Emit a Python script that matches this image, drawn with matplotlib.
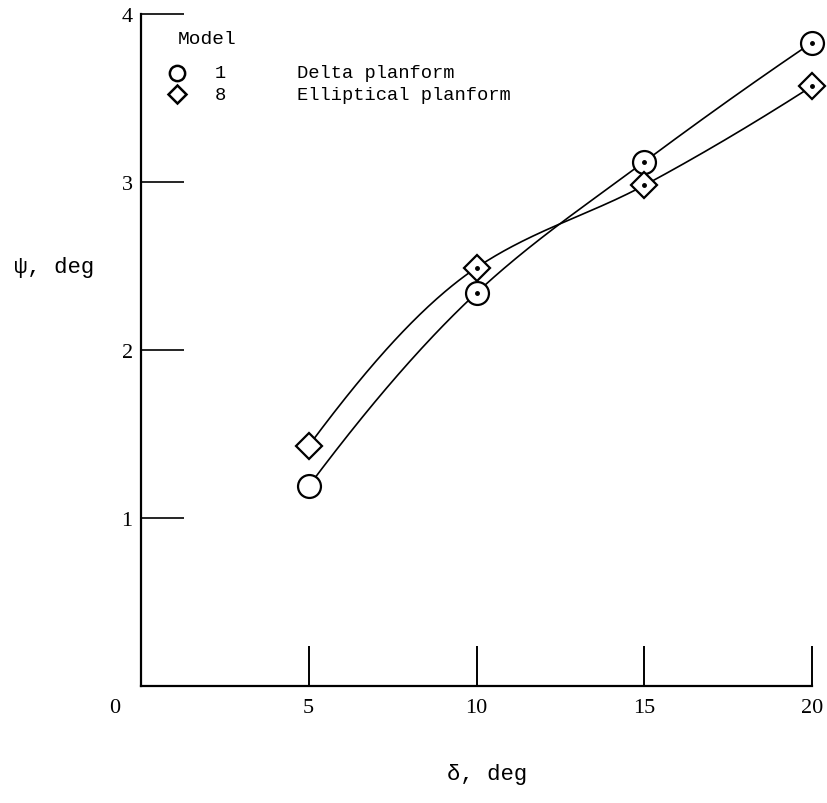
import numpy as np
import matplotlib
matplotlib.use("Agg")
import matplotlib.pyplot as plt

# deflection angle and measured psi for the two planforms
delta = [5, 10, 15, 20]
psi_delta = [1.19, 2.34, 3.12, 3.83]       # model 1, delta planform
psi_ellip = [1.43, 2.49, 2.98, 3.57]       # model 8, elliptical planform
centre_dot = [False, True, True, True]     # symbols drawn with a centre dot

x_ticks = [5, 10, 15, 20]
y_ticks = [1, 2, 3, 4]


def pchip(x, y, xs):
    """Monotone cubic (Fritsch-Carlson) fairing through the points."""
    x = np.asarray(x, float)
    y = np.asarray(y, float)
    h = np.diff(x)
    d = np.diff(y) / h
    m = np.zeros_like(y)
    for k in range(1, len(x) - 1):
        if d[k - 1] * d[k] > 0:
            w1 = 2 * h[k] + h[k - 1]
            w2 = h[k] + 2 * h[k - 1]
            m[k] = (w1 + w2) / (w1 / d[k - 1] + w2 / d[k])
    m[0] = ((2 * h[0] + h[1]) * d[0] - h[0] * d[1]) / (h[0] + h[1])
    m[-1] = ((2 * h[-1] + h[-2]) * d[-1] - h[-1] * d[-2]) / (h[-1] + h[-2])
    idx = np.clip(np.searchsorted(x, xs) - 1, 0, len(x) - 2)
    t = (xs - x[idx]) / h[idx]
    h00 = 2 * t**3 - 3 * t**2 + 1
    h10 = t**3 - 2 * t**2 + t
    h01 = -2 * t**3 + 3 * t**2
    h11 = t**3 - t**2
    return (h00 * y[idx] + h10 * h[idx] * m[idx]
            + h01 * y[idx + 1] + h11 * h[idx] * m[idx + 1])


serif = "Liberation Serif"
mono = ["Liberation Mono", "DejaVu Sans Mono"]

fig = plt.figure(figsize=(8.28, 8.04), dpi=100)
ax = fig.add_axes([141 / 828, 1 - 687 / 804, (812 - 141) / 828, (687 - 15) / 804])
ax.set_xlim(0, 20)
ax.set_ylim(0, 4)

xs = np.linspace(delta[0], delta[-1], 300)
for ys, marker, ms in [(psi_delta, "o", 16.5), (psi_ellip, "D", 13)]:
    ax.plot(xs, pchip(delta, ys, xs), color="black", lw=1.2, zorder=2, clip_on=False)
    ax.plot(delta, ys, linestyle="none", marker=marker, ms=ms, mfc="white",
            mec="black", mew=1.6, zorder=3, clip_on=False)
    dx = [xv for xv, f in zip(delta, centre_dot) if f]
    dy = [yv for yv, f in zip(ys, centre_dot) if f]
    ax.plot(dx, dy, linestyle="none", marker="o", ms=2.5, color="black",
            zorder=4, clip_on=False)

for side in ("top", "right"):
    ax.spines[side].set_visible(False)
for side in ("left", "bottom"):
    ax.spines[side].set_linewidth(1.6)

ax.set_xticks(x_ticks)
ax.set_yticks(y_ticks)
ax.tick_params(axis="x", direction="in", length=29, width=1.4, pad=9)
ax.tick_params(axis="y", direction="in", length=31, width=1.2, pad=6)
for lab in ax.get_xticklabels() + ax.get_yticklabels():
    lab.set_fontfamily(serif)
    lab.set_fontsize(16)

# origin label sits off to the left of the corner
ax.annotate("0", xy=(0, 0), xytext=(-19, -9), textcoords="offset points",
            ha="center", va="top", fontsize=16, fontfamily=serif)

fig.text(54 / 828, 1 - 268 / 804, "ψ, deg", ha="center", va="center",
         fontsize=16, fontfamily=mono)
fig.text(487 / 828, 1 - 775 / 804, "δ, deg", ha="center", va="center",
         fontsize=16, fontfamily=mono)

# legend block
fig.text(178 / 828, 1 - 39 / 804, "Model", ha="left", va="center",
         fontsize=14, fontfamily=mono)
legend_rows = [("o", 11, "1", "Delta planform", 74),
               ("D", 9, "8", "Elliptical planform", 95)]
for marker, ms, num, name, ypix in legend_rows:
    yf = 1 - ypix / 804
    fig.lines.append(plt.Line2D([177 / 828], [yf], transform=fig.transFigure,
                                linestyle="none", marker=marker, ms=ms,
                                mfc="white", mec="black", mew=1.8))
    fig.text(220 / 828, yf, num, ha="center", va="center",
             fontsize=13.5, fontfamily=mono)
    fig.text(297 / 828, yf, name, ha="left", va="center",
             fontsize=13.5, fontfamily=mono)

fig.savefig("out.png", dpi=100)
